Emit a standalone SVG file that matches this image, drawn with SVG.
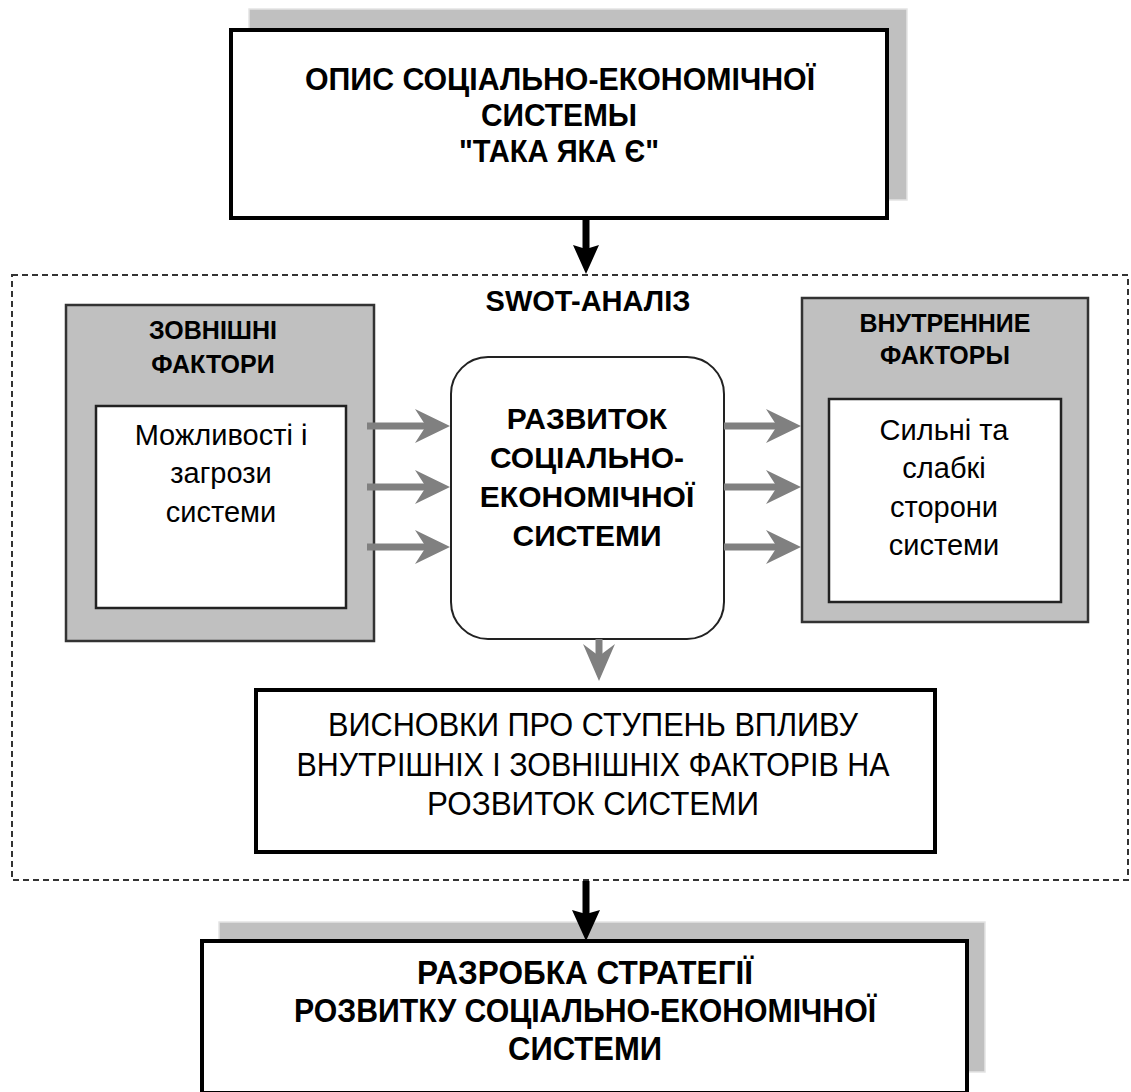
<svg xmlns="http://www.w3.org/2000/svg" width="1131" height="1092" viewBox="0 0 1131 1092">
<style>
  text { font-family: "Liberation Sans", Arial, sans-serif; fill: #000; text-anchor: middle; }
  .b { font-weight: bold; }
  .big { font-size: 34px; }
  .top { font-size: 31px; }
  .mid { font-size: 29px; }
  .ctr { font-size: 30px; }
  .ttl { font-size: 25px; }
  .reg { font-size: 29px; }
  .con { font-size: 33px; }
  .shadow { fill: #c0c0c0; stroke: #e4e4e4; stroke-width: 1.5; }
  .main { fill: #fff; stroke: #000; stroke-width: 4; }
  .gray { fill: #c0c0c0; stroke: #333; stroke-width: 2.5; }
  .inner { fill: #fff; stroke: #222; stroke-width: 2.5; }
  .garrow { stroke: #808080; stroke-width: 7; fill: none; }
  .ghead { fill: #808080; }
  .barrow { stroke: #000; stroke-width: 7; fill: none; }
  .bhead { fill: #000; }
</style>

<g id="swot-frame">
  <rect x="12" y="275" width="1116" height="605" fill="none" stroke="#333" stroke-width="2" stroke-dasharray="6 4"/>
  <text class="b mid" x="588" y="311">SWOT-АНАЛІЗ</text>
</g>

<g id="node-opis">
  <rect class="shadow" x="249" y="9" width="658" height="191"/>
  <rect class="main" x="231" y="30" width="656" height="188"/>
  <text class="b top" x="560" y="90" textLength="510" lengthAdjust="spacingAndGlyphs">ОПИС СОЦІАЛЬНО-ЕКОНОМІЧНОЇ</text>
  <text class="b top" x="559" y="126" textLength="156" lengthAdjust="spacingAndGlyphs">СИСТЕМЫ</text>
  <text class="b top" x="559" y="162" textLength="200" lengthAdjust="spacingAndGlyphs">"ТАКА ЯКА Є"</text>
</g>

<g id="node-external">
  <rect class="gray" x="66" y="305" width="308" height="336"/>
  <text class="b ttl" x="213" y="339">ЗОВНІШНІ</text>
  <text class="b ttl" x="213" y="373">ФАКТОРИ</text>
  <rect class="inner" x="96" y="406" width="250" height="202"/>
  <text class="reg" x="221" y="445">Можливості і</text>
  <text class="reg" x="221" y="483">загрози</text>
  <text class="reg" x="221" y="522">системи</text>
</g>

<g id="node-development">
  <rect x="451" y="357" width="273" height="282" rx="37" ry="37" fill="#fff" stroke="#222" stroke-width="2"/>
  <text class="b ctr" x="587" y="429">РАЗВИТОК</text>
  <text class="b ctr" x="587" y="468">СОЦІАЛЬНО-</text>
  <text class="b ctr" x="587" y="507">ЕКОНОМІЧНОЇ</text>
  <text class="b ctr" x="587" y="546">СИСТЕМИ</text>
</g>

<g id="node-internal">
  <rect class="gray" x="802" y="298" width="286" height="324"/>
  <text class="b ttl" x="945" y="332">ВНУТРЕННИЕ</text>
  <text class="b ttl" x="945" y="364">ФАКТОРЫ</text>
  <rect class="inner" x="829" y="399" width="232" height="203"/>
  <text class="reg" x="944" y="440">Сильні та</text>
  <text class="reg" x="944" y="478">слабкі</text>
  <text class="reg" x="944" y="517">сторони</text>
  <text class="reg" x="944" y="555">системи</text>
</g>

<g id="node-conclusions">
  <rect class="main" x="256" y="690" width="679" height="162"/>
  <text class="con" x="593" y="736" textLength="530" lengthAdjust="spacingAndGlyphs">ВИСНОВКИ ПРО СТУПЕНЬ ВПЛИВУ</text>
  <text class="con" x="593" y="776" textLength="593" lengthAdjust="spacingAndGlyphs">ВНУТРІШНІХ І ЗОВНІШНІХ ФАКТОРІВ НА</text>
  <text class="con" x="593" y="815" textLength="332" lengthAdjust="spacingAndGlyphs">РОЗВИТОК СИСТЕМИ</text>
</g>

<g id="node-strategy">
  <rect class="shadow" x="219" y="922" width="766" height="150"/>
  <rect class="main" x="202" y="941" width="765" height="152"/>
  <text class="b big" x="585" y="984" textLength="336" lengthAdjust="spacingAndGlyphs">РАЗРОБКА СТРАТЕГІЇ</text>
  <text class="b big" x="585" y="1022" textLength="582" lengthAdjust="spacingAndGlyphs">РОЗВИТКУ СОЦІАЛЬНО-ЕКОНОМІЧНОЇ</text>
  <text class="b big" x="585" y="1060" textLength="154" lengthAdjust="spacingAndGlyphs">СИСТЕМИ</text>
</g>

<g id="connectors">
  <line class="barrow" x1="586" y1="218" x2="586" y2="250"/>
  <path class="bhead" d="M586,274 L573,245 L586,249 L599,245 Z"/>
  <line class="garrow" x1="367" y1="426" x2="428" y2="426"/>
  <path class="ghead" d="M450,426 L415,409 L426,426 L415,443 Z"/>
  <line class="garrow" x1="367" y1="487" x2="428" y2="487"/>
  <path class="ghead" d="M450,487 L415,470 L426,487 L415,504 Z"/>
  <line class="garrow" x1="367" y1="547" x2="428" y2="547"/>
  <path class="ghead" d="M450,547 L415,530 L426,547 L415,564 Z"/>
  <line class="garrow" x1="724" y1="426" x2="778" y2="426"/>
  <path class="ghead" d="M801,426 L766,409 L777,426 L766,443 Z"/>
  <line class="garrow" x1="724" y1="487" x2="778" y2="487"/>
  <path class="ghead" d="M801,487 L766,470 L777,487 L766,504 Z"/>
  <line class="garrow" x1="724" y1="547" x2="778" y2="547"/>
  <path class="ghead" d="M801,547 L766,530 L777,547 L766,564 Z"/>
  <line class="garrow" x1="599" y1="639" x2="599" y2="662"/>
  <path class="ghead" d="M599,681 L583,644 L599,656 L615,644 Z"/>
  <line class="barrow" x1="586" y1="881" x2="586" y2="915"/>
  <path class="bhead" d="M586,941 L572,910 L586,914 L600,910 Z"/>
</g>
</svg>
